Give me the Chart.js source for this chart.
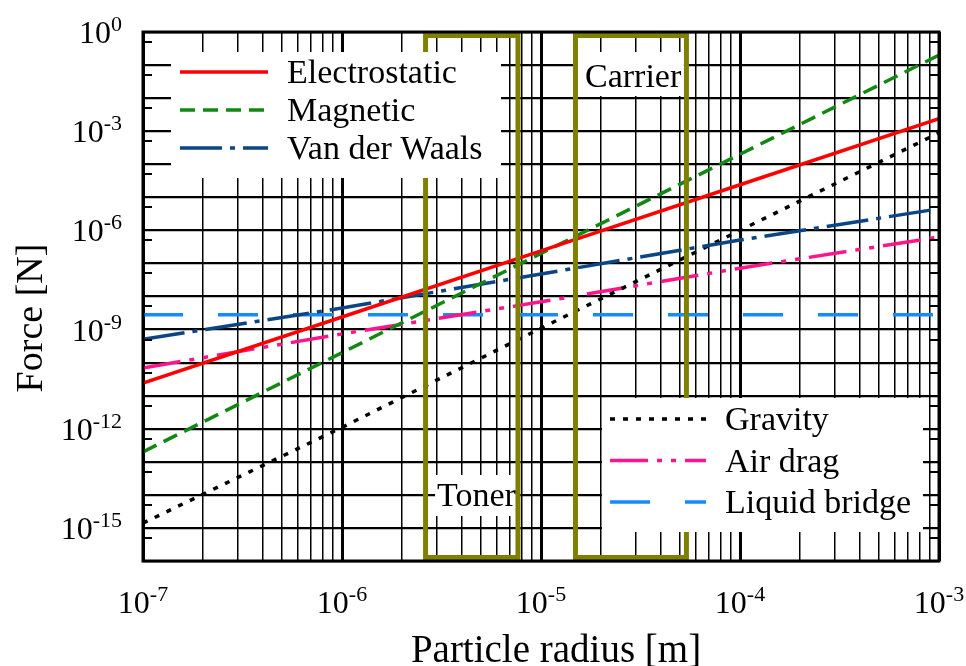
<!DOCTYPE html>
<html>
<head>
<meta charset="utf-8">
<script src="https://cdn.jsdelivr.net/npm/chart.js@4.4.1/dist/chart.umd.min.js"></script>
<style>
  html, body { margin: 0; padding: 0; background: #fff; }
  #wrap { width: 966px; height: 666px; position: relative; }
</style>
</head>
<body>
<div id="wrap"><canvas id="forceChart"></canvas></div>
<script>
// Particle radius [m] at which the curves were read
const radius = [1e-7, 1e-6, 1e-5, 1e-4, 1e-3];

// Forces [N]
const electrostatic = [2.4e-11, 2.4e-9, 2.4e-7, 2.4e-5, 2.4e-3];
const magnetic = [2.0e-13, 2.0e-10, 2.0e-7, 2.0e-4, 2.0e-1];
const vanDerWaals = [5.1e-10, 4.5e-9, 4.8e-8, 5.1e-7, 4.5e-6];
const gravity = [1.4e-15, 1.1e-12, 1.1e-9, 1.0e-6, 8.9e-4];
const airDrag = [6.9e-11, 7.4e-10, 6.9e-9, 7.2e-8, 6.3e-7];
const liquidBridge = [2.8e-9, 2.8e-9, 2.8e-9, 2.8e-9, 2.8e-9];

// radius ranges of the two particle types
const toner = [2.63e-6, 7.66e-6];
const carrier = [1.49e-5, 5.38e-5];

// tick labels (powers of ten)
const xTickExps = [-7, -6, -5, -4, -3];
const yTickExps = [0, -3, -6, -9, -12, -15];

const FONT = '"Liberation Serif", "Times New Roman", serif';

function pts(vals) {
    return radius.map((r, i) => ({ x: r, y: vals[i] }));
}

function isDecade(v) {
    const l = Math.log10(v);
    return Math.abs(l - Math.round(l)) < 1e-6;
}

// grid positions: 1..9 per decade on x, every decade on y
const xGrid = [];
for (let e = -7; e < -3; e++) {
    for (let m = 1; m <= 9; m++) xGrid.push(m * Math.pow(10, e));
}
xGrid.push(1e-3);
const yGrid = [];
for (let e = -16; e <= 0; e++) yGrid.push(Math.pow(10, e));

function drawPow(ctx, exp, x, y, align) {
    ctx.font = '32px ' + FONT;
    const wb = ctx.measureText('10').width;
    ctx.font = '22px ' + FONT;
    const we = ctx.measureText(String(exp)).width;
    let x0 = align === 'right' ? x - wb - we : x - (wb + we) / 2;
    ctx.textAlign = 'left';
    ctx.textBaseline = 'alphabetic';
    ctx.font = '32px ' + FONT;
    ctx.fillText('10', x0, y);
    ctx.font = '22px ' + FONT;
    ctx.fillText(String(exp), x0 + wb, y - 12);
}

function legendBlock(ctx, sets, box, x0, x1, tx, y0, step) {
    ctx.fillStyle = '#fff';
    ctx.fillRect(box[0], box[1], box[2], box[3]);
    sets.forEach((ds, i) => {
        const yy = y0 + i * step;
        ctx.save();
        ctx.strokeStyle = ds.borderColor;
        ctx.lineWidth = 3.5;
        ctx.setLineDash(ds.borderDash || []);
        ctx.beginPath();
        ctx.moveTo(x0, yy);
        ctx.lineTo(x1, yy);
        ctx.stroke();
        ctx.restore();
        ctx.fillStyle = '#000';
        ctx.font = '34px ' + FONT;
        ctx.textAlign = 'left';
        ctx.textBaseline = 'alphabetic';
        ctx.fillText(ds.label, tx, yy + 11);
    });
}

const overlay = {
    id: 'overlay',
    afterDatasetsDraw(chart) {
        const { ctx, chartArea: a } = chart;
        const xs = chart.scales.x, ys = chart.scales.y;
        ctx.save();

        // toner / carrier boxes
        const tl = xs.getPixelForValue(toner[0]), tr = xs.getPixelForValue(toner[1]);
        const cl = xs.getPixelForValue(carrier[0]), cr = xs.getPixelForValue(carrier[1]);
        ctx.fillStyle = '#fff';
        ctx.fillRect(tl + 9.5, a.bottom - 86, tr - tl - 8.5, 41);
        ctx.fillRect(cl + 1.5, a.top + 20, cr - cl - 4, 44);
        ctx.strokeStyle = '#808000';
        ctx.lineWidth = 5;
        [[tl, tr], [cl, cr]].forEach(([l, r]) => {
            ctx.strokeRect(l, a.top + 3.5, r - l, a.height - 7);
        });
        ctx.fillStyle = '#000';
        ctx.font = '34px ' + FONT;
        ctx.textAlign = 'left';
        ctx.textBaseline = 'alphabetic';
        ctx.fillText('Toner', tl + 11.5, a.bottom - 55);
        ctx.fillText('Carrier', cl + 9.5, a.top + 55);

        // legends
        const ds = chart.data.datasets;
        legendBlock(ctx, ds.slice(0, 3), [171, 52, 330, 126], 180, 268, 287, 72, 38);
        legendBlock(ctx, ds.slice(3), [602, 398, 321, 134], 610, 706, 725, 419, 41.5);

        // frame
        ctx.strokeStyle = '#000';
        ctx.lineWidth = 3;
        ctx.setLineDash([]);
        ctx.strokeRect(a.left, a.top, a.width, a.height);

        // minor ticks at 5 x 10^n on both y sides
        ctx.lineWidth = 2;
        for (let e = -16; e < 0; e++) {
            const py = Math.round(ys.getPixelForValue(5 * Math.pow(10, e)));
            ctx.beginPath();
            ctx.moveTo(a.left, py); ctx.lineTo(a.left + 9, py);
            ctx.moveTo(a.right - 9, py); ctx.lineTo(a.right, py);
            ctx.stroke();
        }

        // tick labels
        ctx.fillStyle = '#000';
        xTickExps.forEach(e => drawPow(ctx, e, xs.getPixelForValue(Math.pow(10, e)), a.bottom + 52, 'center'));
        yTickExps.forEach(e => drawPow(ctx, e, a.left - 21, ys.getPixelForValue(Math.pow(10, e)) + 11, 'right'));

        // axis titles
        ctx.font = '39px ' + FONT;
        ctx.textAlign = 'center';
        ctx.fillText('Particle radius [m]', 556, 662);
        ctx.save();
        ctx.translate(42, 318);
        ctx.rotate(-Math.PI / 2);
        ctx.font = '38px ' + FONT;
        ctx.fillText('Force [N]', 0, 0);
        ctx.restore();

        ctx.restore();
    }
};

new Chart(document.getElementById('forceChart'), {
    type: 'line',
    data: {
        datasets: [
            { label: 'Electrostatic', data: pts(electrostatic), borderColor: '#ff0000', borderDash: [] },
            { label: 'Magnetic', data: pts(magnetic), borderColor: '#118811', borderDash: [15, 8] },
            { label: 'Van der Waals', data: pts(vanDerWaals), borderColor: '#0b4684', borderDash: [42, 8, 5, 8] },
            { label: 'Gravity', data: pts(gravity), borderColor: '#000000', borderDash: [5, 8] },
            { label: 'Air drag', data: pts(airDrag), borderColor: '#ff148c', borderDash: [38, 9, 5, 9, 5, 9] },
            { label: 'Liquid bridge', data: pts(liquidBridge), borderColor: '#148cff', borderDash: [40, 35] }
        ]
    },
    options: {
        responsive: true,
        maintainAspectRatio: false,
        animation: false,
        layout: { padding: { left: 143, top: 32, right: 27, bottom: 105 } },
        elements: {
            point: { radius: 0 },
            line: { borderWidth: 3.5, tension: 0, fill: false }
        },
        plugins: {
            legend: { display: false },
            tooltip: { enabled: false }
        },
        scales: {
            x: {
                type: 'logarithmic',
                min: 1e-7,
                max: 1e-3,
                ticks: { display: false, autoSkip: false },
                grid: {
                    drawTicks: false,
                    color: '#000',
                    lineWidth: c => (c.tick && isDecade(c.tick.value)) ? 3 : 1.5
                },
                border: { display: false },
                afterBuildTicks: s => { s.ticks = xGrid.map(v => ({ value: v })); }
            },
            y: {
                type: 'logarithmic',
                min: 1e-16,
                max: 1,
                ticks: { display: false, autoSkip: false },
                grid: { drawTicks: false, color: '#000', lineWidth: 2.2 },
                border: { display: false },
                afterBuildTicks: s => { s.ticks = yGrid.map(v => ({ value: v })); }
            }
        }
    },
    plugins: [overlay]
});
</script>
</body>
</html>
